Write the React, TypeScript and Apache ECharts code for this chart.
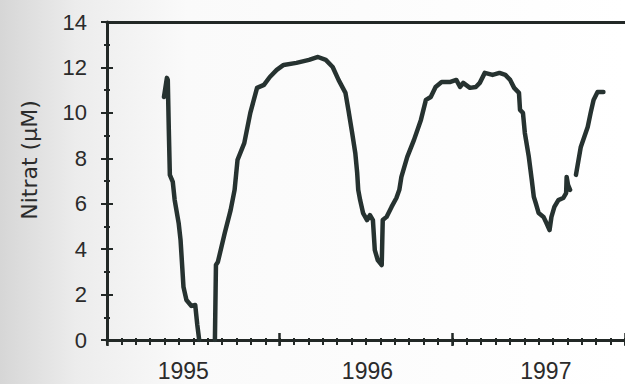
import React, { useEffect, useRef } from "react";
import * as echarts from "echarts";

// Decimal years and nitrate (µM); null marks a gap in the record
const years: number[] = [
  1995.330, 1995.347, 1995.352, 1995.358, 1995.364, 1995.381, 1995.392, 1995.415, 1995.426, 1995.443,
  1995.460, 1995.489, 1995.511, 1995.523, 1995.534,
  1995.580,
  1995.625, 1995.631, 1995.642, 1995.682, 1995.716, 1995.739, 1995.756, 1995.795, 1995.830, 1995.869,
  1995.909, 1995.943, 1995.983, 1996.023, 1996.097, 1996.170, 1996.222, 1996.267, 1996.307, 1996.341,
  1996.381, 1996.398, 1996.420, 1996.438, 1996.449, 1996.455, 1996.466, 1996.483, 1996.506, 1996.523,
  1996.540, 1996.551, 1996.568, 1996.591, 1996.597, 1996.619, 1996.648, 1996.676, 1996.693, 1996.705,
  1996.739, 1996.778, 1996.818, 1996.847, 1996.875, 1996.903, 1996.938, 1996.989, 1997.023, 1997.045,
  1997.063, 1997.102, 1997.136, 1997.159, 1997.188, 1997.233, 1997.273, 1997.307, 1997.335, 1997.358,
  1997.386, 1997.392, 1997.409, 1997.420, 1997.443, 1997.460, 1997.472, 1997.483, 1997.500, 1997.528,
  1997.545, 1997.563, 1997.574, 1997.591, 1997.614, 1997.642, 1997.659, 1997.662, 1997.670, 1997.682,
  1997.700,
  1997.716, 1997.744, 1997.784, 1997.801, 1997.818, 1997.841, 1997.875,
];
const nitrate: (number | null)[] = [
  10.70, 11.54, 11.45, 9.25, 7.27, 6.96, 6.16, 5.15, 4.40, 2.33,
  1.76, 1.50, 1.54, 0.66, 0.0,
  null,
  0.0, 3.30, 3.43, 4.71, 5.72, 6.61, 7.93, 8.67, 10.0, 11.10,
  11.23, 11.58, 11.89, 12.11, 12.20, 12.33, 12.46, 12.33, 12.02, 11.45,
  10.88, 10.13, 9.11, 8.23, 7.35, 6.61, 6.16, 5.59, 5.28, 5.50,
  5.28, 3.96, 3.52, 3.30, 5.28, 5.42, 5.86, 6.25, 6.61, 7.18,
  8.06, 8.81, 9.69, 10.57, 10.70, 11.14, 11.36, 11.36, 11.45, 11.14,
  11.32, 11.10, 11.14, 11.32, 11.76, 11.67, 11.76, 11.67, 11.45, 11.10,
  10.88, 10.13, 10.0, 9.11, 8.06, 7.05, 6.30, 6.03, 5.59, 5.42,
  5.15, 4.84, 5.42, 5.86, 6.16, 6.25, 6.47, 7.18, 6.83, 6.61,
  null,
  7.27, 8.50, 9.38, 10.0, 10.57, 10.92, 10.92,
];

const yearLabels: string[] = ["1995", "1996", "1997"];
const yearLabelMonths: number[] = [5.3, 18.1, 30.5];
const startYear = 1995;

const INK = "#222826";
const TEXT = "#2b2b2b";
const FONT = "'Liberation Sans', Arial, Helvetica, sans-serif";

export default function App() {
  const ref = useRef<HTMLDivElement>(null);
  useEffect(() => {
    if (!ref.current) return;
    const chart = echarts.init(ref.current, undefined, { renderer: "svg" });
    const data = years.map((y, i) => [
      (y - startYear) * 12,
      nitrate[i] === null ? "-" : nitrate[i],
    ]);
    const common = { type: "value" as const, min: 0, max: 36, splitLine: { show: false } };
    const yCommon = { type: "value" as const, min: 0, max: 14, splitLine: { show: false } };
    chart.setOption({
      animation: false,
      backgroundColor: {
        type: "linear",
        x: 0, y: 0, x2: 1, y2: 0,
        colorStops: [
          { offset: 0, color: "#d6d6d6" },
          { offset: 0.12, color: "#ececec" },
          { offset: 0.3, color: "#fafafa" },
          { offset: 1, color: "#ffffff" },
        ],
      },
      grid: { left: 107, top: 22, bottom: 44, right: -10, containLabel: false },
      xAxis: [
        {
          ...common,
          position: "bottom",
          interval: 1,
          axisLine: { show: true, lineStyle: { color: INK, width: 3 } },
          axisTick: { show: true, length: 5, lineStyle: { color: INK, width: 2 } },
          axisLabel: {
            show: true,
            customValues: yearLabelMonths,
            formatter: (v: number) => {
              const idx = yearLabelMonths.findIndex((m) => Math.abs(m - v) < 0.01);
              return idx >= 0 ? yearLabels[idx] : "";
            },
            margin: 19,
            fontSize: 23,
            fontFamily: FONT,
            color: TEXT,
          },
        },
        {
          ...common,
          position: "bottom",
          interval: 1,
          axisLine: { show: false },
          axisTick: { show: true, inside: true, length: 2, lineStyle: { color: INK, width: 2 } },
          axisLabel: { show: false },
        },
        {
          ...common,
          position: "bottom",
          interval: 12,
          axisLine: { show: false },
          axisTick: { show: true, length: 6, lineStyle: { color: INK, width: 2.5 } },
          axisLabel: { show: false },
        },
        {
          ...common,
          position: "bottom",
          interval: 12,
          axisLine: { show: false },
          axisTick: { show: true, inside: true, length: 7, lineStyle: { color: INK, width: 2.5 } },
          axisLabel: { show: false },
        },
        {
          ...common,
          position: "top",
          axisLine: { show: true, lineStyle: { color: INK, width: 3 } },
          axisTick: { show: false },
          axisLabel: { show: false },
        },
      ],
      yAxis: [
        {
          ...yCommon,
          position: "left",
          interval: 2,
          axisLine: { show: true, lineStyle: { color: INK, width: 3 } },
          axisTick: { show: true, length: 6, lineStyle: { color: INK, width: 2 } },
          axisLabel: {
            show: true,
            margin: 20,
            fontSize: 22,
            fontFamily: FONT,
            color: TEXT,
            padding: [0, 0, 6, 0],
          },
        },
        {
          ...yCommon,
          position: "left",
          interval: 2,
          axisLine: { show: false },
          axisTick: { show: true, inside: true, length: 6, lineStyle: { color: INK, width: 2 } },
          axisLabel: { show: false },
        },
        {
          ...yCommon,
          position: "left",
          interval: 1,
          axisLine: { show: false },
          axisTick: { show: true, length: 3, lineStyle: { color: INK, width: 2 } },
          axisLabel: { show: false },
        },
        {
          ...yCommon,
          position: "left",
          interval: 1,
          axisLine: { show: false },
          axisTick: { show: true, inside: true, length: 3, lineStyle: { color: INK, width: 2 } },
          axisLabel: { show: false },
        },
      ],
      graphic: [
        {
          type: "text",
          x: 29,
          y: 160,
          rotation: Math.PI / 2,
          style: {
            text: "Nitrat (µM)",
            fontSize: 22,
            fontFamily: "'DejaVu Sans', sans-serif",
            fill: TEXT,
            align: "center",
            verticalAlign: "middle",
          },
        },
      ],
      series: [
        {
          type: "line",
          xAxisIndex: 0,
          yAxisIndex: 0,
          data,
          showSymbol: false,
          connectNulls: false,
          lineStyle: { color: "#263230", width: 4.5, join: "round", cap: "round" },
        },
      ],
    });
    return () => chart.dispose();
  }, []);
  return (
    <div
      ref={ref}
      style={{ position: "fixed", left: 0, top: 0, width: 625, height: 384 }}
    />
  );
}
